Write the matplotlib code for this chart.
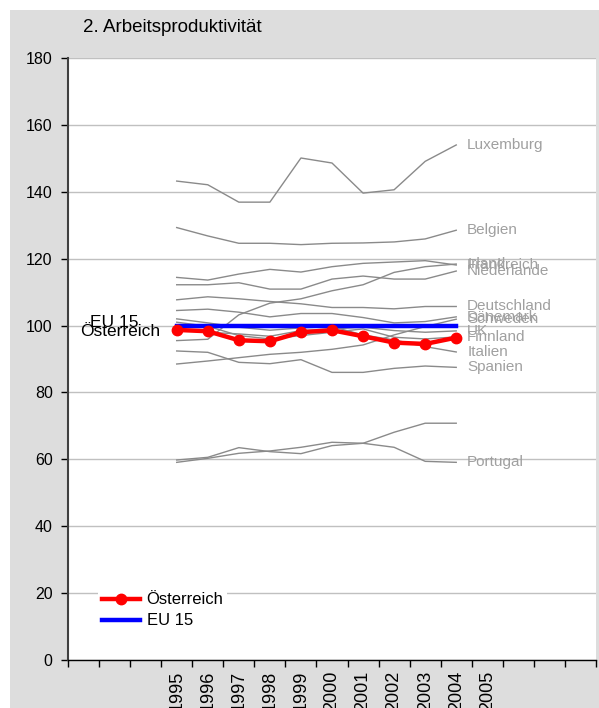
import matplotlib
matplotlib.use("Agg")
import matplotlib.pyplot as plt
from matplotlib.patches import Rectangle

# Category slots along the x axis (empty slots pad both sides)
categories = ["", "", "", "1995", "1996", "1997", "1998", "1999", "2000",
              "2001", "2002", "2003", "2004", "2005", "", "", ""]
years = ["1995", "1996", "1997", "1998", "1999", "2000",
         "2001", "2002", "2003", "2004"]

oesterreich = [98.7, 98.3, 95.6, 95.3, 98.0, 98.6, 96.8, 94.9, 94.5, 96.4]
eu15 = [100, 100, 100, 100, 100, 100, 100, 100, 100, 100]

luxemburg = [143.2, 142.1, 136.9, 136.9, 150.1, 148.6, 139.6, 140.6, 149.1, 154.0]
belgien = [129.3, 126.8, 124.6, 124.6, 124.2, 124.6, 124.7, 125.0, 125.9, 128.5]
frankreich = [114.4, 113.6, 115.4, 116.8, 116.0, 117.6, 118.6, 119.0, 119.4, 118.1]
irland = [95.5, 95.9, 103.2, 106.7, 108.0, 110.4, 112.2, 115.9, 117.6, 118.4]
niederlande = [112.2, 112.2, 112.8, 110.9, 110.9, 113.9, 114.8, 113.9, 113.9, 116.3]
deutschland = [107.7, 108.6, 108.0, 107.2, 106.5, 105.4, 105.4, 105.0, 105.7, 105.7]
daenemark = [104.5, 104.9, 104.0, 102.6, 103.6, 103.6, 102.4, 100.8, 101.2, 102.6]
schweden = [88.5, 89.4, 90.4, 91.4, 92.0, 92.9, 94.2, 97.2, 99.7, 101.9]
uk = [99.0, 98.0, 97.5, 96.8, 98.5, 99.0, 99.5, 98.5, 98.0, 98.4]
finnland = [101.0, 99.8, 97.0, 96.0, 97.0, 98.0, 99.0, 96.5, 96.0, 96.6]
italien = [102.0, 100.8, 99.5, 98.6, 99.3, 99.7, 97.2, 95.7, 93.7, 92.1]
spanien = [92.4, 92.0, 89.0, 88.6, 89.8, 86.0, 86.0, 87.2, 87.9, 87.5]
portugal = [59.8, 60.6, 63.5, 62.3, 61.7, 64.1, 64.8, 63.6, 59.4, 59.1]
griechenland = [59.1, 60.3, 61.8, 62.5, 63.6, 65.1, 64.8, 68.1, 70.8, 70.8]

countries = [
    ("Luxemburg", luxemburg), ("Belgien", belgien), ("Irland", irland),
    ("Frankreich", frankreich), ("Niederlande", niederlande),
    ("Deutschland", deutschland), ("Dänemark", daenemark),
    ("Schweden", schweden), ("UK", uk), ("Finnland", finnland),
    ("Italien", italien), ("Spanien", spanien), ("Portugal", portugal),
    ("", griechenland),
]

yticks = [0, 20, 40, 60, 80, 100, 120, 140, 160, 180]

FONT = ["Liberation Sans", "DejaVu Sans"]
plt.rcParams["font.family"] = FONT

W, H = 599, 708
fig = plt.figure(figsize=(W / 100, H / 100), dpi=100)
fig.patch.set_facecolor("white")
fig.patches.append(Rectangle((10 / W, 0), 1 - 10 / W, 1 - 10 / H,
                             transform=fig.transFigure, facecolor="#dddddd",
                             edgecolor="none", zorder=-10))

ax = fig.add_axes([68 / W, (H - 660) / H, (596 - 68) / W, (660 - 58) / H])
ax.set_facecolor("white")

slot = {c: i for i, c in enumerate(categories) if c}
xs = [slot[y] + 0.5 for y in years]

for name, vals in countries:
    ax.plot(xs, vals, color="#8a8a8a", lw=1.0, zorder=3)
    if name:
        ax.annotate(name, (xs[-1], vals[-1]), xytext=(11, 0),
                    textcoords="offset pixels", va="center", ha="left",
                    color="#a0a0a0", fontsize=11)

ax.plot(xs, eu15, color="#0000ff", lw=3.2, zorder=5, label="EU 15")
ax.plot(xs, oesterreich, color="#ff0000", lw=3.2, marker="o", ms=7.5,
        zorder=6, label="Österreich")

ax.annotate("EU 15", (xs[0], eu15[0]), xytext=(-38, 3),
            textcoords="offset pixels", va="center", ha="right",
            color="black", fontsize=12.5)
ax.annotate("Österreich", (xs[0], oesterreich[0]), xytext=(-16, -2),
            textcoords="offset pixels", va="center", ha="right",
            color="black", fontsize=12.5)

ax.set_xlim(0, len(categories))
ax.set_ylim(0, 180)
ax.set_yticks(yticks)
ax.set_yticklabels([str(v) for v in yticks], fontsize=11.5)
ax.yaxis.grid(True, color="#c0c0c0", lw=1.0)
ax.set_axisbelow(True)

ax.set_xticks(range(len(categories) + 1))
ax.set_xticklabels([])
ax.set_xticks([i + 0.5 for i in range(len(categories))], minor=True)
ax.set_xticklabels(categories, minor=True, rotation=90, fontsize=13,
                   va="top")
ax.tick_params(axis="x", which="minor", length=0, pad=8)
ax.tick_params(axis="x", which="major", length=5, width=1, color="black")
ax.tick_params(axis="y", length=5, width=1, color="black", pad=6)

for s in ("top", "right"):
    ax.spines[s].set_visible(False)
ax.spines["left"].set_color("#404040")
ax.spines["left"].set_linewidth(1.5)
ax.spines["bottom"].set_color("black")
ax.spines["bottom"].set_linewidth(1.0)

handles, labels = ax.get_legend_handles_labels()
leg = ax.legend(handles[::-1], labels[::-1], loc="lower left",
                bbox_to_anchor=(22 / 528, 20 / 602), frameon=True,
                fontsize=12, handlelength=2.3, borderpad=0.2,
                labelspacing=0.35, handletextpad=0.4)
leg.get_frame().set_edgecolor("none")
leg.get_frame().set_facecolor("white")
leg.get_frame().set_alpha(1)

fig.text(83 / W, 1 - 28 / H, "2. Arbeitsproduktivität", fontsize=13.5,
         ha="left", va="center", color="black")

fig.savefig("out.png", dpi=100)
